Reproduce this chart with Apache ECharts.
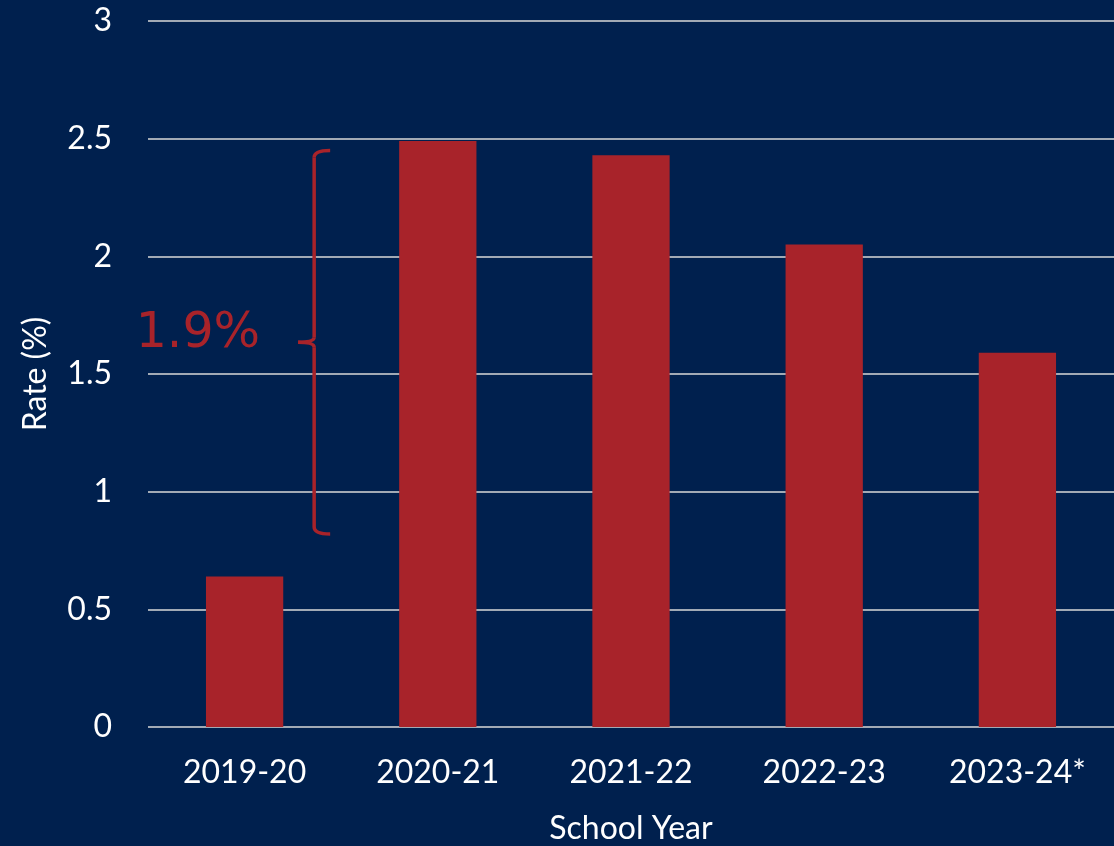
<!DOCTYPE html>
<html><head><meta charset="utf-8">
<script src="https://cdn.jsdelivr.net/npm/echarts@6/dist/echarts.min.js"></script>
<style>html,body{margin:0;padding:0;background:#00204e;}#c{width:1114px;height:846px;}</style>
</head><body><div id="c"></div>
<script>
const categories = ['2019-20','2020-21','2021-22','2022-23','2023-24*'];
const rates = [0.64, 2.49, 2.43, 2.05, 1.59];
const yTicks = [0, 0.5, 1, 1.5, 2, 2.5, 3];
const annotationText = '1.9%';
const bracketRange = [0.82, 2.45];

const RED = '#a8232a';
const FONT = 'Lato';
const chart = echarts.init(document.getElementById('c'));
chart.setOption({
  backgroundColor: '#00204e',
  animation: false,
  grid: {left: 148, right: 0, top: 21, bottom: 119, containLabel: false, outerBoundsMode: 'none'},
  xAxis: {
    type: 'category', data: categories,
    name: 'School Year', nameLocation: 'middle', nameGap: 86,
    nameTextStyle: {color: '#ffffff', fontSize: 32, fontFamily: FONT},
    axisLine: {show: false}, axisTick: {show: false},
    axisLabel: {color: '#ffffff', fontSize: 32, fontFamily: FONT, margin: 30}
  },
  yAxis: {
    type: 'value', min: yTicks[0], max: yTicks[yTicks.length-1], interval: 0.5,
    name: 'Rate (%)', nameLocation: 'middle', nameGap: 96,
    nameTextStyle: {color: '#ffffff', fontSize: 32, fontFamily: FONT},
    axisLine: {show: false}, axisTick: {show: false},
    axisLabel: {color: '#ffffff', fontSize: 32, fontFamily: FONT, margin: 36},
    splitLine: {lineStyle: {color: '#d9d9d9', width: 1.5}}
  },
  series: [{
    type: 'bar', data: rates, barWidth: '40%',
    itemStyle: {color: RED}
  }]
});

function drawBracket(){
  const c0 = chart.convertToPixel({xAxisIndex:0}, 0);
  const c1 = chart.convertToPixel({xAxisIndex:0}, 1);
  const x = c0 + (c1 - c0) * 0.36;
  const yTop = chart.convertToPixel({yAxisIndex:0}, bracketRange[1]);
  const yBot = chart.convertToPixel({yAxisIndex:0}, bracketRange[0]);
  const yMid = (yTop + yBot) / 2;
  const st = {stroke: RED, lineWidth: 3.5, fill: null};
  chart.setOption({graphic: [
    {type: 'bezierCurve', shape: {x1: x+16, y1: yTop, x2: x, y2: yTop+7, cpx1: x, cpy1: yTop}, style: st},
    {type: 'line', shape: {x1: x, y1: yTop+7, x2: x, y2: yMid-5}, style: st},
    {type: 'bezierCurve', shape: {x1: x, y1: yMid-5, x2: x-16, y2: yMid, cpx1: x, cpy1: yMid}, style: st},
    {type: 'bezierCurve', shape: {x1: x-16, y1: yMid, x2: x, y2: yMid+5, cpx1: x, cpy1: yMid}, style: st},
    {type: 'line', shape: {x1: x, y1: yMid+5, x2: x, y2: yBot-7}, style: st},
    {type: 'bezierCurve', shape: {x1: x, y1: yBot-7, x2: x+16, y2: yBot, cpx1: x, cpy1: yBot}, style: st},
    {type: 'text', x: x - 54, y: yMid - 8, style: {text: annotationText, fill: RED, font: '49px "DejaVu Sans"', align: 'right', verticalAlign: 'middle'}}
  ]});
}
drawBracket();
</script></body></html>
